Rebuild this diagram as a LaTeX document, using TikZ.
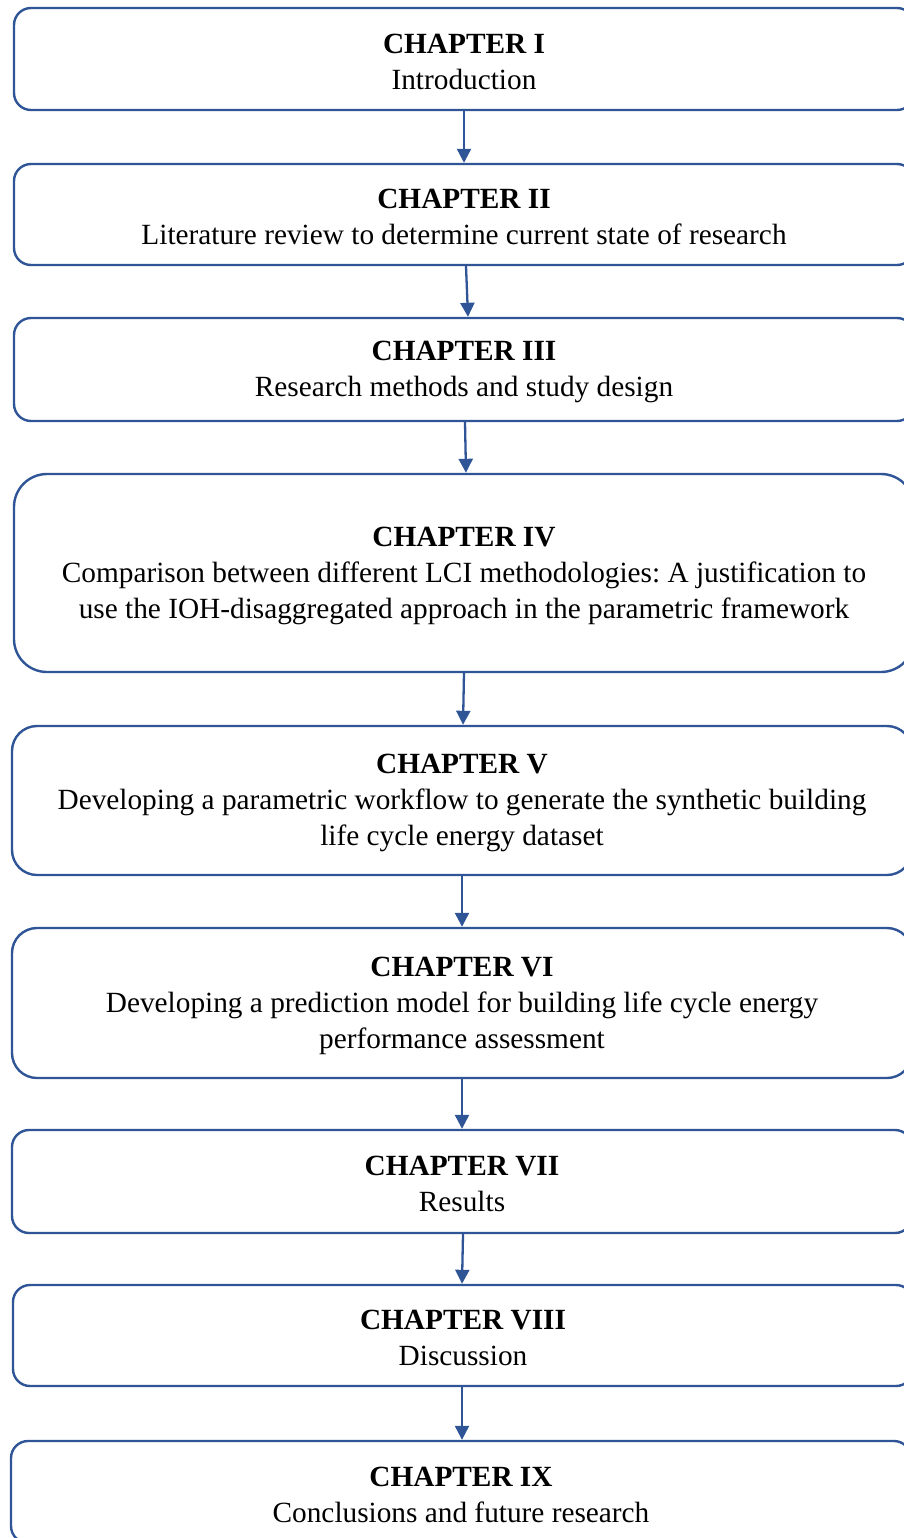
\documentclass[tikz,border=0pt]{standalone}
\usepackage{fontspec}
\setmainfont{Liberation Serif}
\frenchspacing
\usetikzlibrary{arrows.meta}
\definecolor{chapblue}{RGB}{47,85,151}
\tikzset{
  chapbox/.style={draw=chapblue, line width=2.4pt, fill=white, align=center,
    inner sep=0pt, minimum width=900pt, font=\fontsize{29.3}{36}\selectfont},
  flow/.style={draw=chapblue, line width=2.3pt, -{Triangle[length=14pt,width=14pt]}}
}
% title line in bold, description below; the strut sets the first line's height
\newcommand{\chap}[2]{\rule{0pt}{25pt}\textbf{#1}\\#2}
\begin{document}
\begin{tikzpicture}[x=1pt,y=-1pt]
\useasboundingbox (0,0) rectangle (904,1538);
\clip (0,0) rectangle (904,1538);

\node[chapbox, minimum height=102pt, rounded corners=17pt] (c1) at (464,59)
  {\chap{CHAPTER I}{Introduction}};
\node[chapbox, minimum height=101pt, rounded corners=17pt] (c2) at (464,214.5)
  {\chap{CHAPTER II}{Literature review to determine current state of research}};
\node[chapbox, minimum height=103pt, rounded corners=17pt] (c3) at (464,369.5)
  {\chap{CHAPTER III}{Research methods and study design}};
\node[chapbox, minimum height=198pt, rounded corners=33pt] (c4) at (464,573)
  {\chap{CHAPTER IV}{Comparison between different LCI methodologies: A justification to\\use the IOH-disaggregated approach in the parametric framework}};
\node[chapbox, minimum height=149pt, rounded corners=25pt] (c5) at (462,800.5)
  {\chap{CHAPTER V}{Developing a parametric workflow to generate the synthetic building\\life cycle energy dataset}};
\node[chapbox, minimum height=150pt, rounded corners=25pt] (c6) at (462,1003)
  {\chap{CHAPTER VI}{Developing a prediction model for building life cycle energy\\performance assessment}};
\node[chapbox, minimum height=103pt, rounded corners=17pt] (c7) at (462,1181.5)
  {\chap{CHAPTER VII}{Results}};
\node[chapbox, minimum height=101pt, rounded corners=17pt] (c8) at (463,1335.5)
  {\chap{CHAPTER VIII}{Discussion}};
\node[chapbox, minimum height=102pt, rounded corners=17pt] (c9) at (461,1492)
  {\chap{CHAPTER IX}{Conclusions and future research}};

\draw[flow] (c1.south) -- (c2.north);
\draw[flow] ([xshift=2pt]c2.south) -- ([xshift=4pt]c3.north);
\draw[flow] ([xshift=1pt]c3.south) -- ([xshift=2pt]c4.north);
\draw[flow] (c4.south) -- ([xshift=1pt]c5.north);
\draw[flow] (c5.south) -- (c6.north);
\draw[flow] (c6.south) -- (c7.north);
\draw[flow] ([xshift=1pt]c7.south) -- ([xshift=-1pt]c8.north);
\draw[flow] ([xshift=-1pt]c8.south) -- ([xshift=1pt]c9.north);
\end{tikzpicture}
\end{document}
